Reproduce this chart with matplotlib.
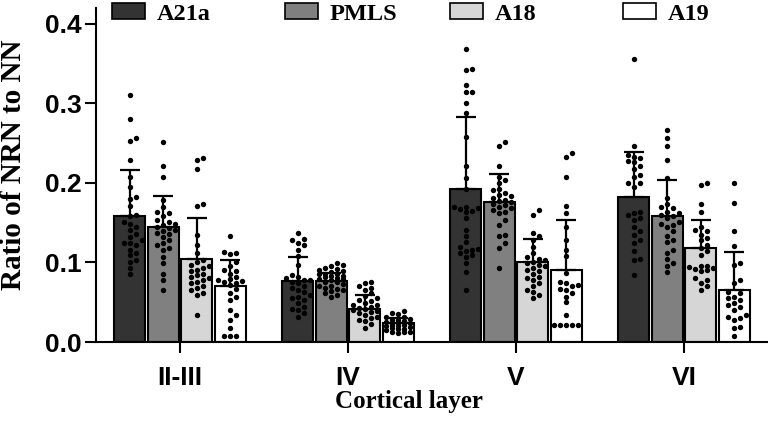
import numpy as np
import matplotlib
matplotlib.use("Agg")
from matplotlib import pyplot as plt
from matplotlib.patches import Patch


# categories
layers = ["II-III", "IV", "V", "VI"]
areas = ["A21a", "PMLS", "A18", "A19"]
colors = ["#333333", "#808080", "#d6d6d6", "#ffffff"]

# bar heights (mean) and SD, one value per layer
mean_a21a = [0.158, 0.077, 0.193, 0.182]
mean_pmls = [0.144, 0.077, 0.176, 0.158]
mean_a18 = [0.105, 0.042, 0.101, 0.118]
mean_a19 = [0.070, 0.0235, 0.090, 0.066]

sd_a21a = [0.058, 0.030, 0.090, 0.057]
sd_pmls = [0.040, 0.010, 0.035, 0.046]
sd_a18 = [0.051, 0.017, 0.029, 0.036]
sd_a19 = [0.033, 0.007, 0.063, 0.047]

# individual points, per layer
pts_a21a = [
    [0.311, 0.280, 0.256, 0.253, 0.229, 0.208, 0.195, 0.182, 0.180, 0.171, 0.160, 0.158, 0.151, 0.145, 0.141,
     0.136, 0.132, 0.124, 0.124, 0.122, 0.116, 0.112, 0.109, 0.103, 0.101, 0.093, 0.086, 0.148, 0.128],
    [0.137, 0.130, 0.128, 0.124, 0.122, 0.116, 0.108, 0.097, 0.084, 0.082, 0.080, 0.078, 0.078, 0.076, 0.074,
     0.070, 0.068, 0.065, 0.063, 0.059, 0.057, 0.055, 0.053, 0.049, 0.044, 0.042, 0.040, 0.036, 0.032],
    [0.369, 0.343, 0.342, 0.323, 0.315, 0.314, 0.300, 0.288, 0.258, 0.221, 0.206, 0.193, 0.170, 0.170, 0.168,
     0.167, 0.165, 0.164, 0.156, 0.141, 0.133, 0.126, 0.120, 0.117, 0.116, 0.114, 0.112, 0.109, 0.107, 0.099,
     0.088, 0.065],
    [0.356, 0.247, 0.235, 0.233, 0.231, 0.227, 0.226, 0.221, 0.210, 0.208, 0.200, 0.200, 0.195, 0.164, 0.162,
     0.156, 0.154, 0.145, 0.135, 0.124, 0.114, 0.105, 0.103, 0.084, 0.160, 0.140, 0.128, 0.218],
]
pts_pmls = [
    [0.252, 0.221, 0.207, 0.179, 0.170, 0.164, 0.162, 0.158, 0.151, 0.149, 0.147, 0.145, 0.141, 0.139, 0.137,
     0.136, 0.132, 0.128, 0.124, 0.122, 0.118, 0.116, 0.107, 0.099, 0.086, 0.078, 0.066, 0.143, 0.153],
    [0.099, 0.097, 0.096, 0.093, 0.092, 0.090, 0.089, 0.088, 0.086, 0.086, 0.085, 0.083, 0.083, 0.082, 0.081,
     0.079, 0.079, 0.078, 0.076, 0.075, 0.073, 0.071, 0.070, 0.068, 0.067, 0.065, 0.064, 0.061, 0.059, 0.056],
    [0.251, 0.247, 0.221, 0.208, 0.204, 0.200, 0.193, 0.191, 0.187, 0.183, 0.179, 0.177, 0.174, 0.172, 0.170,
     0.168, 0.166, 0.164, 0.162, 0.153, 0.147, 0.135, 0.133, 0.124, 0.118, 0.093, 0.181, 0.185, 0.176],
    [0.266, 0.256, 0.246, 0.229, 0.206, 0.181, 0.174, 0.168, 0.164, 0.162, 0.160, 0.156, 0.151, 0.149, 0.147,
     0.145, 0.139, 0.133, 0.128, 0.126, 0.116, 0.112, 0.105, 0.099, 0.095, 0.088, 0.158, 0.170],
]
pts_a18 = [
    [0.231, 0.229, 0.218, 0.174, 0.171, 0.135, 0.122, 0.112, 0.103, 0.097, 0.095, 0.091, 0.089, 0.086, 0.082,
     0.080, 0.078, 0.076, 0.074, 0.070, 0.068, 0.065, 0.061, 0.059, 0.034, 0.101, 0.084, 0.093],
    [0.076, 0.074, 0.070, 0.068, 0.065, 0.061, 0.058, 0.055, 0.053, 0.051, 0.049, 0.047, 0.046, 0.044, 0.043,
     0.042, 0.040, 0.039, 0.038, 0.036, 0.034, 0.032, 0.030, 0.028, 0.026, 0.023, 0.017],
    [0.166, 0.160, 0.137, 0.133, 0.128, 0.120, 0.112, 0.107, 0.103, 0.099, 0.097, 0.095, 0.093, 0.091, 0.086,
     0.082, 0.080, 0.078, 0.074, 0.070, 0.065, 0.063, 0.059, 0.055, 0.101, 0.089, 0.105],
    [0.200, 0.198, 0.174, 0.164, 0.145, 0.141, 0.139, 0.135, 0.128, 0.122, 0.118, 0.114, 0.109, 0.095, 0.093,
     0.091, 0.089, 0.080, 0.078, 0.074, 0.070, 0.065, 0.094, 0.096, 0.092, 0.131],
]
pts_a19 = [
    [0.133, 0.113, 0.112, 0.111, 0.101, 0.095, 0.089, 0.086, 0.082, 0.079, 0.078, 0.077, 0.076, 0.074, 0.072,
     0.061, 0.057, 0.053, 0.040, 0.034, 0.028, 0.017, 0.007, 0.007, 0.007, 0.091, 0.067],
    [0.039, 0.036, 0.035, 0.032, 0.031, 0.029, 0.028, 0.028, 0.026, 0.025, 0.024, 0.024, 0.022, 0.021, 0.020,
     0.020, 0.019, 0.018, 0.016, 0.016, 0.015, 0.013, 0.013, 0.012, 0.011],
    [0.238, 0.233, 0.207, 0.171, 0.162, 0.144, 0.128, 0.116, 0.108, 0.087, 0.076, 0.074, 0.072, 0.070, 0.067,
     0.061, 0.057, 0.050, 0.034, 0.022, 0.022, 0.022, 0.022, 0.022, 0.066],
    [0.200, 0.175, 0.139, 0.121, 0.099, 0.097, 0.078, 0.074, 0.061, 0.057, 0.053, 0.049, 0.044, 0.040, 0.034,
     0.032, 0.030, 0.028, 0.019, 0.017, 0.008, 0.055, 0.046, 0.063],
]

means = [mean_a21a, mean_pmls, mean_a18, mean_a19]
sds = [sd_a21a, sd_pmls, sd_a18, sd_a19]
points = [pts_a21a, pts_pmls, pts_a18, pts_a19]


# simple beeswarm: spread points sideways so they don't overlap (pixel space)
def swarm(vals, px_x, px_y, dot=5.5, step=6.0, kmax=2):
    placed = []
    out_x, out_y = [], []
    cands = [0]
    for k in range(1, kmax + 1):
        cands += [k, -k]
    for v in sorted(vals):
        yp = v * px_y
        best, best_d = 0, -1
        for k in cands:
            xp = k * step
            d = min([np.hypot(xp - a, yp - b) for a, b in placed] + [99])
            if d >= dot:
                best = xp
                break
            if d > best_d:
                best, best_d = xp, d
        placed.append((best, yp))
        out_x.append(best / px_x)
        out_y.append(v)
    return np.array(out_x), np.array(out_y)


serif = {"family": "Liberation Serif", "weight": "bold"}
sans = {"family": "Liberation Sans", "weight": "bold"}

fig = plt.figure(figsize=(7.68, 4.30), dpi=100)
ax = fig.add_axes([96 / 768, 1 - 342 / 430, 672 / 768, 334 / 430])
ax.set_xlim(-0.5, 3.5)
ax.set_ylim(0, 0.42)

px_x = 672 / 4.0
px_y = 334 / 0.42

x = np.arange(len(layers))
offsets = [-0.3, -0.1, 0.1, 0.3]
bar_w = 0.185

for i in range(len(areas)):
    xpos = x + offsets[i]
    ax.bar(xpos, means[i], bar_w, color=colors[i], edgecolor="black", linewidth=1.5, zorder=2)
    ax.errorbar(xpos, means[i], yerr=[np.zeros(len(layers)), sds[i]], fmt="none",
                ecolor="black", elinewidth=1.6, capsize=7, capthick=1.6, zorder=3)
    for j in range(len(layers)):
        dx, yy = swarm(points[i][j], px_x, px_y)
        ax.scatter(xpos[j] + dx, yy, s=15, color="black", linewidths=0, zorder=4, clip_on=False)

# axes styling
for s in ["top", "right"]:
    ax.spines[s].set_visible(False)
for s in ["left", "bottom"]:
    ax.spines[s].set_linewidth(1.5)
ax.tick_params(axis="both", length=8, width=1.5, direction="out")
ax.tick_params(axis="y", pad=2)
ax.tick_params(axis="x", pad=9)
ax.set_yticks([0.0, 0.1, 0.2, 0.3, 0.4])
ax.set_yticklabels(["0.0", "0.1", "0.2", "0.3", "0.4"], fontsize=19, **sans)
ax.set_xticks(x)
ax.set_xticklabels(layers, fontsize=19, **sans)

ax.set_ylabel("Ratio of NRN to NN", fontsize=21, **serif)
ax.yaxis.set_label_coords(-0.102, 0.53)
ax.set_xlabel("Cortical layer", fontsize=18, **serif)
ax.xaxis.set_label_coords(0.466, -0.145)

# legend entries spread along the top
leg_x = [112, 285, 450, 623]
for i in range(len(areas)):
    h = Patch(facecolor=colors[i], edgecolor="black", linewidth=1.2)
    leg = fig.legend(handles=[h], labels=[areas[i]], loc="upper left",
                     bbox_to_anchor=(leg_x[i] / 768, 0.992), frameon=False,
                     borderpad=0, borderaxespad=0, handlelength=1.35, handleheight=0.6,
                     handletextpad=0.5, prop={"family": "Liberation Serif", "weight": "bold", "size": 17.5})

plt.savefig("out.png", dpi=100)
